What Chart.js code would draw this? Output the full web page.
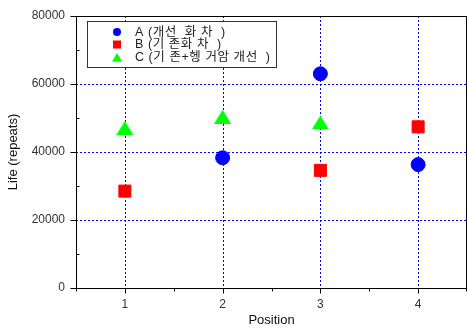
<!DOCTYPE html>
<html>
<head>
<meta charset="utf-8">
<script src="https://cdn.jsdelivr.net/npm/chart.js@4/dist/chart.umd.min.js"></script>
<style>
  html, body { margin: 0; padding: 0; background: #fff; }
  #wrap { width: 467px; height: 328px; position: relative; }
</style>
</head>
<body>
<div id="wrap"><canvas id="c" width="467" height="328"></canvas></div>
<script>
// Measurement positions and fatigue life per configuration (null = not measured)
const positions = [1, 2, 3, 4];
const seriesNames = ['A (개선  화 차  )', 'B (기 존화 차  )', 'C (기 존+헹 거암 개선  )'];
const lifeA = [null, 38300, 63000, 36300];
const lifeB = [28500, null, 34600, 47400];
const lifeC = [47100, 50400, 48700, null];
const yTicks = [0, 20000, 40000, 60000, 80000];
const xTicks = [1, 2, 3, 4];

const BLUE = '#0000ff', RED = '#ff0000', GREEN = '#00ff00';
const FONT = '"Liberation Sans", Arial, "Noto Sans CJK KR", sans-serif';

function toPoints(vals) {
  const out = [];
  positions.forEach((p, i) => { if (vals[i] !== null) out.push({ x: p, y: vals[i] }); });
  return out;
}

// Triangle marker as an image so it is centred on its bounding box
function triangleImage(w, h, color) {
  const cv = document.createElement('canvas');
  cv.width = w; cv.height = h;
  const g = cv.getContext('2d');
  g.fillStyle = color;
  g.beginPath();
  g.moveTo(w / 2, 0);
  g.lineTo(w, h);
  g.lineTo(0, h);
  g.closePath();
  g.fill();
  return cv;
}
const triBig = triangleImage(17, 14, GREEN);

// Dotted blue grid under the markers
const dottedGrid = {
  id: 'dottedGrid',
  beforeDatasetsDraw(chart) {
    const ctx = chart.ctx;
    const a = chart.chartArea;
    const xs = chart.scales.x, ys = chart.scales.y;
    ctx.save();
    ctx.strokeStyle = BLUE;
    ctx.lineWidth = 1;
    ctx.setLineDash([2, 2]);
    ctx.beginPath();
    xTicks.forEach((v) => {
      const x = Math.round(xs.getPixelForValue(v)) + 0.5;
      ctx.moveTo(x, a.top); ctx.lineTo(x, a.bottom);
    });
    yTicks.filter((v) => v > 0 && v < 80000).forEach((v) => {
      const y = Math.round(ys.getPixelForValue(v)) + 0.5;
      ctx.moveTo(a.left, y); ctx.lineTo(a.right, y);
    });
    ctx.stroke();
    ctx.restore();
  }
};

// Frame, axis ticks and inset legend
const decorations = {
  id: 'decorations',
  afterDraw(chart) {
    const ctx = chart.ctx;
    const a = chart.chartArea;
    const xs = chart.scales.x, ys = chart.scales.y;
    ctx.save();
    ctx.strokeStyle = '#000';
    ctx.lineWidth = 1;
    ctx.strokeRect(Math.round(a.left) + 0.5, Math.round(a.top) + 0.5,
                   Math.round(a.right - a.left) - 1, Math.round(a.bottom - a.top));
    ctx.beginPath();
    // y ticks: majors outward, minors inward
    for (let v = 0; v <= 80000; v += 10000) {
      const y = Math.round(ys.getPixelForValue(v)) + 0.5;
      const L = Math.round(a.left) + 0.5;
      if (v % 20000 === 0) { ctx.moveTo(L - 6, y); ctx.lineTo(L, y); }
      else { ctx.moveTo(L, y); ctx.lineTo(L + 3, y); }
    }
    // x ticks: majors and minors outward
    for (let v = 0.5; v <= 4.5; v += 0.5) {
      const x = Math.min(Math.round(xs.getPixelForValue(v)), Math.round(a.right) - 1) + 0.5;
      const B = Math.round(a.bottom) + 0.5;
      const len = Number.isInteger(v) ? 5 : 3;
      ctx.moveTo(x, B); ctx.lineTo(x, B + len);
    }
    ctx.stroke();

    // legend box
    const lx = 87, ly = 21, lw = 189, lh = 46;
    ctx.fillStyle = '#fff';
    ctx.fillRect(lx, ly, lw, lh);
    ctx.strokeStyle = '#333';
    ctx.lineWidth = 1;
    ctx.strokeRect(lx + 0.5, ly + 0.5, lw, lh);
    const rows = [32, 44.5, 57.5];
    const mx = 117;
    ctx.font = '12.5px ' + FONT;
    ctx.textBaseline = 'middle';
    // spread the longest entry to span the box interior
    const widest = ctx.measureText(seriesNames[2]).width;
    const spacing = Math.max(0, (135 - widest) / (seriesNames[2].length - 1));
    ctx.letterSpacing = spacing.toFixed(2) + 'px';
    seriesNames.forEach((name, i) => {
      const y = rows[i];
      ctx.fillStyle = [BLUE, RED, GREEN][i];
      ctx.beginPath();
      if (i === 0) { ctx.arc(mx, y, 4, 0, Math.PI * 2); }
      else if (i === 1) { ctx.rect(mx - 4, y - 4, 8, 8); }
      else { ctx.moveTo(mx, y - 4.5); ctx.lineTo(mx + 5, y + 4); ctx.lineTo(mx - 5, y + 4); ctx.closePath(); }
      ctx.fill();
      ctx.fillStyle = '#222';
      ctx.fillText(name, 135, y + 0.5);
    });
    ctx.restore();
  }
};

new Chart(document.getElementById('c'), {
  type: 'scatter',
  data: {
    datasets: [
      { label: seriesNames[0], data: toPoints(lifeA), pointStyle: 'circle', pointRadius: 7,
        backgroundColor: BLUE, borderColor: BLUE, borderWidth: 1 },
      { label: seriesNames[1], data: toPoints(lifeB), pointStyle: 'rect', pointRadius: 8.5,
        backgroundColor: RED, borderColor: RED, borderWidth: 1 },
      { label: seriesNames[2], data: toPoints(lifeC), pointStyle: triBig, pointRadius: 8,
        backgroundColor: GREEN, borderColor: GREEN, borderWidth: 0 }
    ]
  },
  options: {
    responsive: false,
    animation: false,
    events: [],
    layout: { autoPadding: false, padding: { top: 16, right: 0, left: 0, bottom: 0 } },
    plugins: { legend: { display: false }, tooltip: { enabled: false } },
    scales: {
      x: {
        type: 'linear', min: 0.5, max: 4.5,
        afterBuildTicks: (s) => { s.ticks = xTicks.map((v) => ({ value: v })); },
        ticks: {
          autoSkip: false, maxRotation: 0, padding: 9, color: '#333',
          font: { family: FONT, size: 12 },
          callback: (v) => String(v)
        },
        grid: { display: false, drawTicks: false },
        border: { display: false },
        title: { display: true, text: 'Position', color: '#111', font: { family: FONT, size: 13 }, padding: { top: 0, bottom: 0 } },
        afterFit: (s) => { s.height = 40; s.paddingLeft = 0; s.paddingRight = 0; }
      },
      y: {
        type: 'linear', min: 0, max: 80000,
        afterBuildTicks: (s) => { s.ticks = yTicks.map((v) => ({ value: v })); },
        ticks: {
          autoSkip: false, padding: 11, color: '#333',
          font: { family: FONT, size: 12 },
          callback: (v) => String(v)
        },
        grid: { display: false, drawTicks: false },
        border: { display: false },
        title: { display: true, text: 'Life (repeats)', color: '#111', font: { family: FONT, size: 13 }, padding: { top: 6, bottom: 0 } },
        afterFit: (s) => { s.width = 76; s.paddingTop = 0; s.paddingBottom = 0; }
      }
    }
  },
  plugins: [dottedGrid, decorations]
});
</script>
</body>
</html>
